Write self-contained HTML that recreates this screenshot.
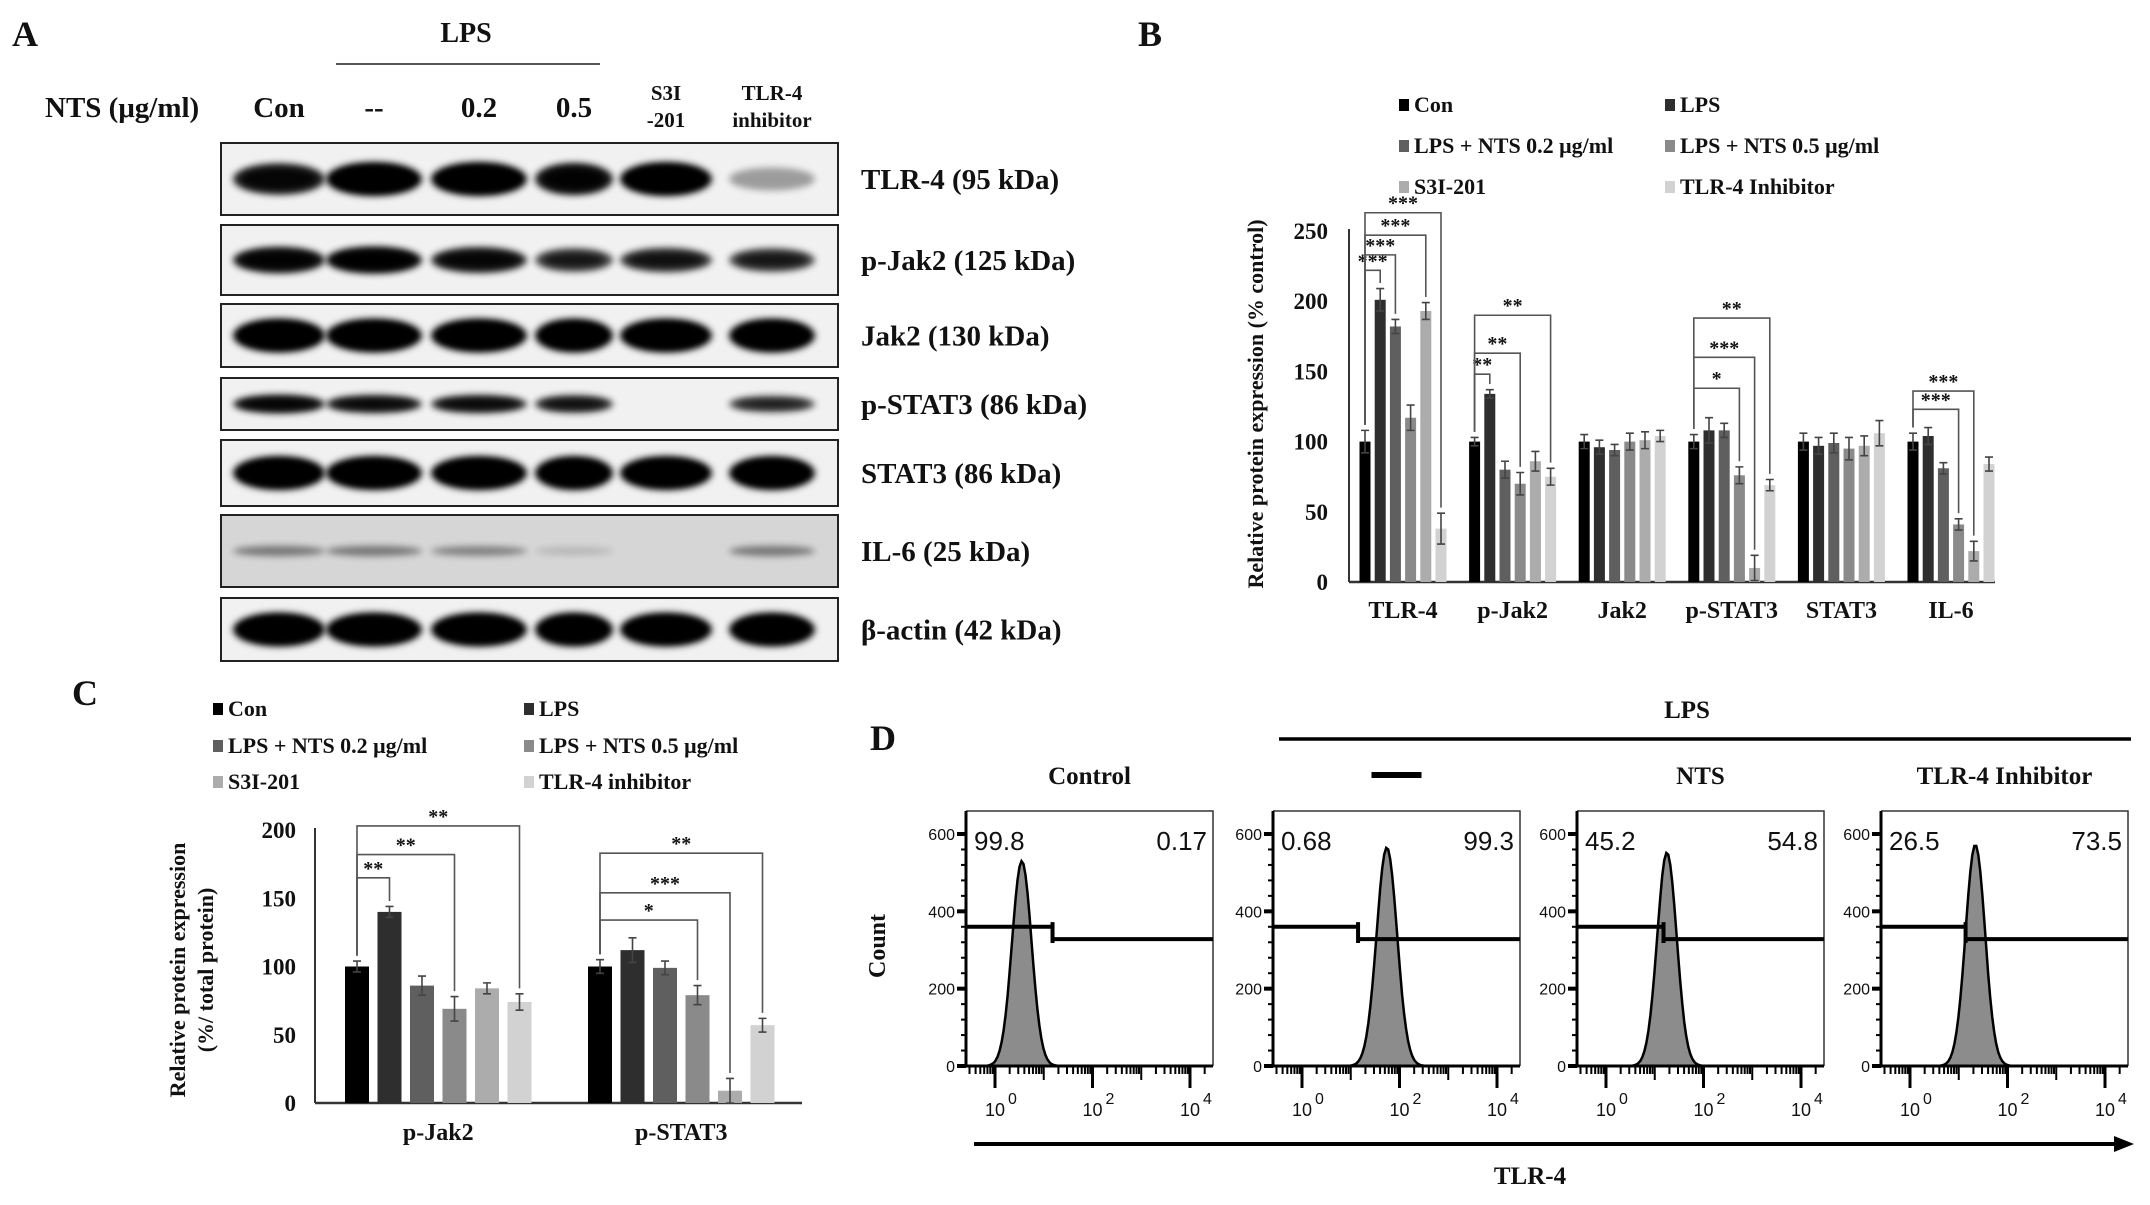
<!DOCTYPE html>
<html><head><meta charset="utf-8"><style>
html,body{margin:0;padding:0;background:#fff;}
svg{display:block;}
.serif{font-family:"Liberation Serif",serif;font-weight:bold;fill:#111;}
.sans{font-family:"Liberation Sans",sans-serif;fill:#111;}
</style></head><body>
<svg id="fig" width="2150" height="1205" viewBox="0 0 2150 1205" xmlns="http://www.w3.org/2000/svg">
<defs>
<filter id="blur" x="-20%" y="-60%" width="140%" height="220%"><feGaussianBlur stdDeviation="3.5"/></filter>
</defs>
</svg>
<script>
// ---------- Panel B data ----------
const bCategories = ['TLR-4','p-Jak2','Jak2','p-STAT3','STAT3','IL-6'];
const bCon  = [100,100,100,100,100,100];
const bLps  = [201,134,96,108,97,104];
const bN02  = [182,80,94,108,99,81];
const bN05  = [117,70,100,76,95,41];
const bS3I  = [193,86,101,10,97,22];
const bInh  = [38,75,104,69,106,84];
const bErrCon = [8,3,5,5,6,6];
const bErrLps = [8,3,5,9,6,6];
const bErrN02 = [5,6,4,5,7,4];
const bErrN05 = [9,8,6,6,8,4];
const bErrS3I = [6,7,6,9,7,7];
const bErrInh = [11,6,4,4,9,5];
const bTicks = [0,50,100,150,200,250];
const bSigGroup  = [0,0,0,0,1,1,1,3,3,3,5,5];
const bSigTarget = [1,2,4,5,1,3,5,3,4,5,3,4];
const bSigLevel  = [222,233,247,263,148,163,190,138,160,188,123,136];
const bSigLabel  = ['***','***','***','***','**','**','**','*','***','**','***','***'];
// ---------- Panel C data ----------
const cCategories = ['p-Jak2','p-STAT3'];
const cCon = [100,100];
const cLps = [140,112];
const cN02 = [86,99];
const cN05 = [69,79];
const cS3I = [84,9];
const cInh = [74,57];
const cErrCon = [4,5];
const cErrLps = [4,9];
const cErrN02 = [7,5];
const cErrN05 = [9,7];
const cErrS3I = [4,9];
const cErrInh = [6,5];
const cTicks = [0,50,100,150,200];
const cSigGroup  = [0,0,0,1,1,1];
const cSigTarget = [1,3,5,3,4,5];
const cSigLevel  = [165,182,203,134,154,183];
const cSigLabel  = ['**','**','**','*','***','**'];
// ---------- Panel D data ----------
const dTitles = ['Control','','NTS','TLR-4 Inhibitor'];
const dLeftPct = ['99.8','0.68','45.2','26.5'];
const dRightPct = ['0.17','99.3','54.8','73.5'];
const dPeakLog = [0.55,1.74,1.25,1.34];
const dPeakCount = [530,565,552,572];
const dPeakWidth = [0.2,0.21,0.2,0.2];
const dGateLog = [1.18,1.15,1.18,1.14];
const dYTicks = [0,200,400,600];
const dXTicks = [0,2,4];
// ---------- Panel A data ----------
const aRows = ['TLR-4 (95 kDa)','p-Jak2 (125 kDa)','Jak2 (130 kDa)','p-STAT3 (86 kDa)','STAT3 (86 kDa)','IL-6 (25 kDa)','β-actin (42 kDa)'];
const aIntensity = [
 [0.85,1,1,0.9,1,0.35],
 [0.9,0.95,0.85,0.7,0.75,0.7],
 [1,1,1,1,1,1],
 [0.9,0.85,0.85,0.8,0,0.7],
 [1,1,1,1,1,1],
 [0.45,0.45,0.4,0.15,0,0.45],
 [1,1,1,1,1,1]
];

const svg = document.getElementById('fig');
const NS = 'http://www.w3.org/2000/svg';
function mk(tag, attrs, parent){const e=document.createElementNS(NS,tag);for(const k in attrs)e.setAttribute(k,attrs[k]);(parent||svg).appendChild(e);return e;}
function txt(s, attrs, parent){const e=mk('text',attrs,parent);e.textContent=s;return e;}

const seriesColors = ['#000000','#2e2e2e','#5f5f5f','#8a8a8a','#acacac','#d2d2d2'];

// ---------- Panel A ----------
const gA = mk('g',{});


let t;
t = txt('A',{x:12,y:46,class:'serif','font-size':36},gA);
 
t = txt('LPS',{x:466,y:42,class:'serif','font-size':28,'text-anchor':'middle'},gA);
 
let ln = mk('line',{x1:336,y1:64,x2:600,y2:64,stroke:'#555','stroke-width':2},gA);
 
t = txt('NTS (μg/ml)',{x:45,y:117,class:'serif','font-size':29},gA);
 
const laneX = [279,374,479,574,666,772];
const laneW = [92,96,96,78,92,86];
const laneHdr = ['Con','--','0.2','0.5'];
for(let i=0;i<4;i++){
  t = txt(laneHdr[i],{x:laneX[i],y:117,class:'serif','font-size':29,'text-anchor':'middle'},gA);
   
}
t = txt('S3I',{x:666,y:100,class:'serif','font-size':21,'text-anchor':'middle'},gA);
 
t = txt('-201',{x:666,y:127,class:'serif','font-size':21,'text-anchor':'middle'},gA);
 
t = txt('TLR-4',{x:772,y:100,class:'serif','font-size':21,'text-anchor':'middle'},gA);
 
t = txt('inhibitor',{x:772,y:127,class:'serif','font-size':21,'text-anchor':'middle'},gA);
 
const rowTop = [143,225,304,378,440,515,598];
const rowBot = [215,295,367,430,506,587,661];
for(let r=0;r<aRows.length;r++){
  const y0=rowTop[r], h=rowBot[r]-y0;
  const bg = mk('rect',{x:221,y:y0,width:617,height:h,fill:r===5?'#d6d6d6':'#f1f1f1',stroke:'#222','stroke-width':2},gA);
   
  const bh = r===3?20:(r===5?14:(r===1?28:34));
  for(let l=0;l<6;l++){
    const v = aIntensity[r][l];
    if(v<=0) continue;
    const e = mk('ellipse',{cx:laneX[l],cy:y0+h/2,rx:laneW[l]/2,ry:bh/2*(0.5+0.5*v),fill:'#000',opacity:Math.min(1,v),filter:'url(#blur)'},gA);
     
    if(v>0.6){
      const c = mk('ellipse',{cx:laneX[l],cy:y0+h/2,rx:laneW[l]/2-8,ry:bh/2*(0.5+0.5*v)-5,fill:'#000',opacity:v,filter:'url(#blur)'},gA);
       
    }
  }
  t = txt(aRows[r],{x:861,y:y0+h/2+10,class:'serif','font-size':29},gA);
   
}

// ---------- bar chart helper ----------
function barChart(o){
  const g = mk('g',{});
  
  
  const y = v => o.y0 - (v/o.yMax)*(o.y0-o.yTop);
  const xBar = (gi,si) => o.x0 + gi*o.gStep + si*o.sStep;
  let a = mk('line',{x1:o.axX,y1:y(o.yMax)-2,x2:o.axX,y2:o.y0,stroke:'#333','stroke-width':2},g);
   
  a = mk('line',{x1:o.axX,y1:o.y0,x2:o.axEnd,y2:o.y0,stroke:'#333','stroke-width':2.5},g);
   
  o.ticks.forEach(tv=>{
    const tl = txt(String(tv),{x:o.tickX,y:y(tv)+8,class:'serif','font-size':23,'text-anchor':'end'},g);
     
  });
  o.series.forEach((vals,si)=>{
    vals.forEach((v,gi)=>{
      const cx = xBar(gi,si);
      const r = mk('rect',{x:cx-o.bw/2,y:y(v),width:o.bw,height:o.y0-y(v),fill:seriesColors[si]},g);
      
      
      const e = o.errs[si][gi];
      const eb = mk('path',{d:`M${cx} ${y(v+e)}V${y(v-e)}M${cx-4} ${y(v+e)}H${cx+4}M${cx-4} ${y(v-e)}H${cx+4}`,stroke:'#444','stroke-width':1.6,fill:'none'},g);
      
      
    });
  });
  o.cats.forEach((c,gi)=>{
    const cx = xBar(gi,2.5);
    const cl = txt(c,{x:cx,y:o.catY,class:'serif','font-size':24,'text-anchor':'middle'},g);
    
    
  });
  o.sigGroup.forEach((gi,k)=>{
    const ti = o.sigTarget[k];
    const xl = xBar(gi,0), xr = xBar(gi,ti);
    const lvl = o.sigLevel[k];
    const lBot = o.series[0][gi]+o.errs[0][gi]+4;
    const rBot = o.series[ti][gi]+o.errs[ti][gi]+4;
    const p = mk('path',{d:`M${xl} ${y(lBot)}V${y(lvl)}H${xr}V${y(rBot)}`,stroke:'#555','stroke-width':1.6,fill:'none'},g);
    
    
    const s = txt(o.sigLabel[k],{x:(xl+xr)/2,y:y(lvl)-3,class:'serif','font-size':20,'text-anchor':'middle'},g);
    
    
  });
  o.legend.forEach((lab,i)=>{
    const lx = i%2===0?o.legX[0]:o.legX[1];
    const ly = o.legY[Math.floor(i/2)];
    const sq = mk('rect',{x:lx,y:ly-15,width:10,height:12,fill:seriesColors[i]},g);
    
    
    const lt = txt(lab,{x:lx+15,y:ly-2,class:'serif','font-size':22},g);
    
    
  });
  o.yTitle.forEach((line,i)=>{
    const yt = txt(line,{x:0,y:0,class:'serif','font-size':o.yTitleSize,'text-anchor':'middle',transform:`translate(${o.yTitleX+i*o.yTitleGap},${o.yTitleY}) rotate(-90)`},g);
    
    
  });
  return g;
}

t = txt('B',{x:1138,y:46,class:'serif','font-size':36});
 
barChart({name:'panel-b-chart',cats:bCategories,series:[bCon,bLps,bN02,bN05,bS3I,bInh],
  errs:[bErrCon,bErrLps,bErrN02,bErrN05,bErrS3I,bErrInh],
  y0:582,yTop:231,yMax:250,ticks:bTicks,axX:1349,axEnd:1995,tickX:1328,
  x0:1365,gStep:109.6,sStep:15.2,bw:11,catY:618,
  sigGroup:bSigGroup,sigTarget:bSigTarget,sigLevel:bSigLevel,sigLabel:bSigLabel,
  legend:['Con','LPS','LPS + NTS 0.2 μg/ml','LPS + NTS 0.5 μg/ml','S3I-201','TLR-4 Inhibitor'],
  legX:[1399,1665],legY:[114,155,196],
  yTitle:['Relative protein expression  (% control)'],yTitleX:1263,yTitleY:404,yTitleGap:0,yTitleSize:22});

t = txt('C',{x:72,y:705,class:'serif','font-size':36});
 
barChart({name:'panel-c-chart',cats:cCategories,series:[cCon,cLps,cN02,cN05,cS3I,cInh],
  errs:[cErrCon,cErrLps,cErrN02,cErrN05,cErrS3I,cErrInh],
  y0:1103,yTop:830,yMax:200,ticks:cTicks,axX:315,axEnd:802,tickX:296,
  x0:357,gStep:243,sStep:32.5,bw:24,catY:1140,
  sigGroup:cSigGroup,sigTarget:cSigTarget,sigLevel:cSigLevel,sigLabel:cSigLabel,
  legend:['Con','LPS','LPS + NTS 0.2 μg/ml','LPS + NTS 0.5 μg/ml','S3I-201','TLR-4 inhibitor'],
  legX:[213,524],legY:[718,755,791],
  yTitle:['Relative protein expression','(%/ total protein)'],yTitleX:185,yTitleY:970,yTitleGap:28,yTitleSize:22});

// ---------- Panel D ----------
const gD = mk('g',{});


t = txt('D',{x:870,y:750,class:'serif','font-size':36},gD);
 
t = txt('LPS',{x:1687,y:718,class:'serif','font-size':25,'text-anchor':'middle'},gD);
 
ln = mk('line',{x1:1279,y1:739,x2:2131,y2:739,stroke:'#000','stroke-width':3.5},gD);
 
const pLeft = [966,1273,1577,1881];
const pW = 247, pTop = 811, pBot = 1066;
const yCount = c => pBot - c*(232/600);
for(let p=0;p<4;p++){
  const L = pLeft[p];
  const xl = lg => L + 29 + 48.75*lg;
  const cx = L + pW/2;
  if(dTitles[p]){
    t = txt(dTitles[p],{x:cx,y:784,class:'serif','font-size':25,'text-anchor':'middle'},gD);
     
  } else {
    const d = mk('rect',{x:cx-25,y:772,width:50,height:6,fill:'#000'},gD);
     
  }
  let dstr = '';
  for(let k=0;k<=120;k++){
    const lg = -0.6 + k*(4.9/120);
    const c = dPeakCount[p]*Math.exp(-0.5*Math.pow((lg-dPeakLog[p])/dPeakWidth[p],2));
    const X = Math.min(L+pW, xl(lg));
    dstr += (k?'L':'M')+X.toFixed(1)+' '+yCount(c).toFixed(1);
  }
  const hf = mk('path',{d:dstr+`L${L+pW} ${pBot}L${L} ${pBot}Z`,fill:'#8c8c8c',stroke:'#000','stroke-width':2.5},gD);
   
  const bx = mk('path',{d:`M${L} ${pTop}H${L+pW}V${pBot}`,fill:'none',stroke:'#333','stroke-width':1.5},gD);
   
  const ax = mk('path',{d:`M${L} ${pTop}V${pBot}H${L+pW}`,fill:'none',stroke:'#000','stroke-width':3},gD);
   
  for(let c=0;c<=600;c+=40){
    const tk = mk('line',{x1:L-(c%200===0?9:5),y1:yCount(c),x2:L,y2:yCount(c),stroke:'#000','stroke-width':c%200===0?4:2},gD);
     
  }
  dYTicks.forEach(v=>{
    const tl = txt(String(v),{x:L-11,y:yCount(v)+6,class:'sans','font-size':16,'text-anchor':'end'},gD);
     
  });
  for(let dec=-1;dec<=4;dec++){
    for(let m=1;m<=9;m++){
      const lg = dec + Math.log10(m);
      const X = xl(lg);
      if(X<L+2||X>L+pW) continue;
      const major = m===1 && dec%2===0;
      const tk = mk('line',{x1:X,y1:pBot,x2:X,y2:pBot+(major?22:(m===1?14:8)),stroke:'#000','stroke-width':major?3:2},gD);
       
    }
  }
  dXTicks.forEach(v=>{
    const tl = mk('text',{x:xl(v)-10,y:pBot+50,class:'sans','font-size':18},gD);
    tl.textContent='10';
     
    const sp = mk('tspan',{dx:3,dy:-12,'font-size':16},tl);
    sp.textContent=String(v);
  });
  const gx = xl(dGateLog[p]);
  const gt = mk('path',{d:`M${L} ${yCount(360)}H${gx}M${gx} ${yCount(372)}V${yCount(318)}M${gx} ${yCount(328)}H${L+pW}`,fill:'none',stroke:'#000','stroke-width':4},gD);
   
  t = txt(dLeftPct[p],{x:L+8,y:850,class:'sans','font-size':26},gD);
   
  t = txt(dRightPct[p],{x:L+pW-6,y:850,class:'sans','font-size':26,'text-anchor':'end'},gD);
   
}
t = txt('Count',{x:0,y:0,class:'serif','font-size':24,'text-anchor':'middle',transform:'translate(885,946) rotate(-90)'},gD);
 
const arr = mk('path',{d:'M974 1144H2118',stroke:'#000','stroke-width':4,fill:'none'},gD);
 
const ah = mk('path',{d:'M2114 1136L2134 1144L2114 1152Z',fill:'#000'},gD);
 
t = txt('TLR-4',{x:1530,y:1184,class:'serif','font-size':25,'text-anchor':'middle'},gD);
 
</script>
</body></html>
